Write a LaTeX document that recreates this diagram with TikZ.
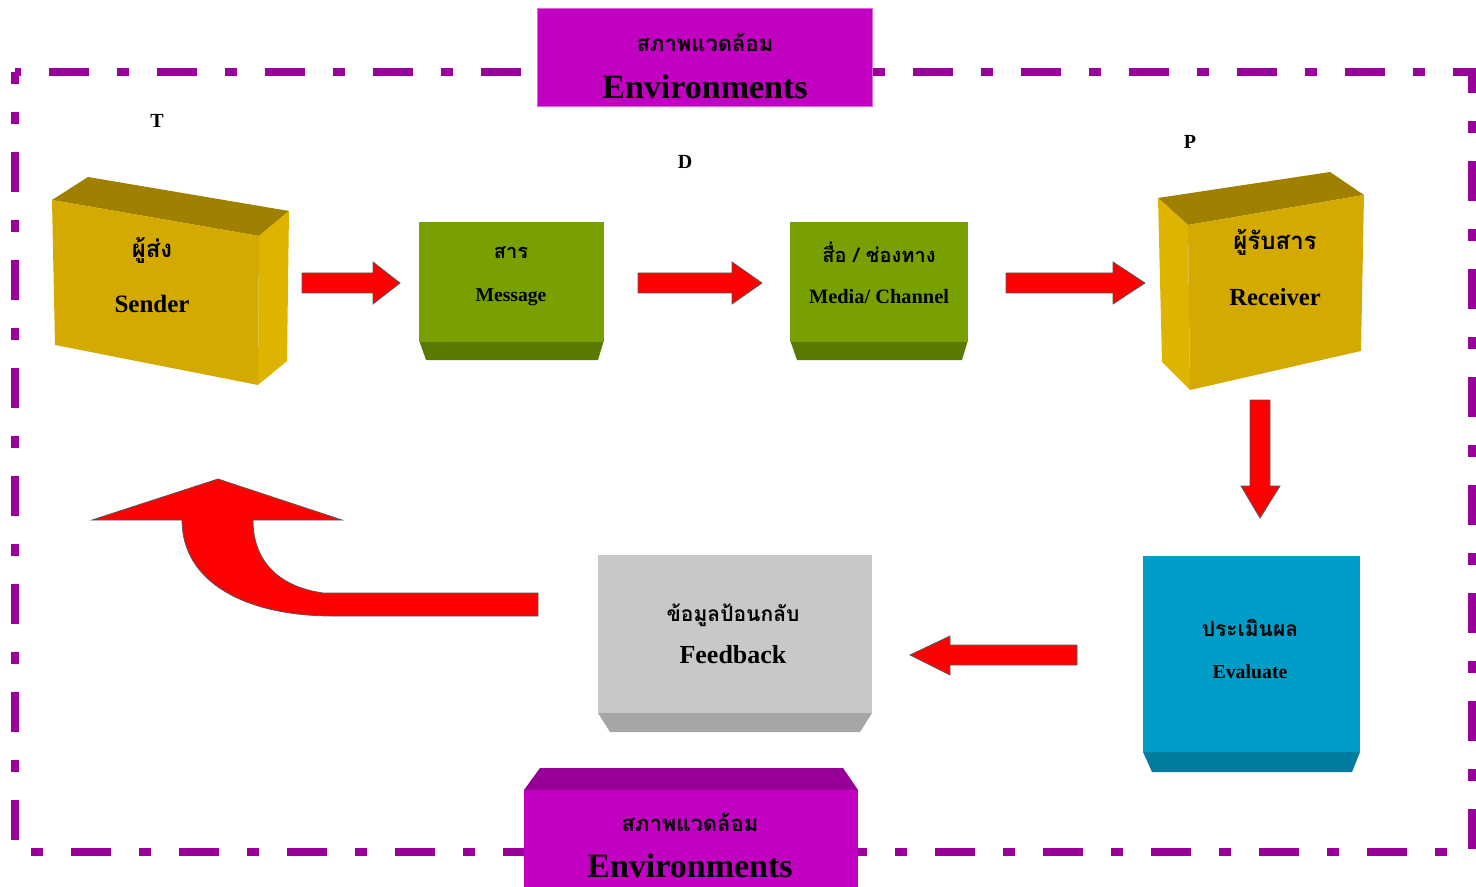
\documentclass[tikz,border=0pt]{standalone}
\usepackage{fontspec}
\setmainfont{Liberation Serif}
\newfontfamily\thai[Script=Thai]{Loma}
\definecolor{border}{RGB}{153,0,153}
\definecolor{envfront}{RGB}{194,0,194}
\definecolor{envtop}{RGB}{150,0,150}
\definecolor{gold}{RGB}{212,170,0}
\definecolor{goldtop}{RGB}{160,128,0}
\definecolor{goldside}{RGB}{222,180,0}
\definecolor{grn}{RGB}{119,160,0}
\definecolor{grndark}{RGB}{88,122,0}
\definecolor{gry}{RGB}{200,200,200}
\definecolor{grydark}{RGB}{166,166,166}
\definecolor{blu}{RGB}{0,157,200}
\definecolor{bludark}{RGB}{0,124,160}
\newcommand\rarrow[6]{\draw[barrow] (#1,#3-#4) -- (#2-#6,#3-#4) -- (#2-#6,#3-#5) -- (#2,#3) -- (#2-#6,#3+#5) -- (#2-#6,#3+#4) -- (#1,#3+#4) -- cycle;}
\begin{document}
\begin{tikzpicture}[x=0.5pt,y=-0.5pt,
  barrow/.style={fill=red, draw=black!65, line width=0.4pt},
  en/.style={font=\bfseries\fontsize{#1}{#1}\selectfont, text=black, inner sep=0pt},
  th/.style={font=\thai\bfseries\fontsize{#1}{#1}\selectfont, text=black, inner sep=0pt},
  letter/.style={font=\bfseries\fontsize{10}{10}\selectfont, inner sep=0pt},
]
\useasboundingbox (0,0) rectangle (1476,887);
% dash-dot environment border
\draw[color=border, line width=4pt, dash pattern=on 20pt off 14pt on 6pt off 14pt, dash phase=14pt]
  (15,72) rectangle (1472,852);

% top environments box
\node[fill=envfront, draw=envfront!60!white, line width=0.4pt, minimum width=167.5pt, minimum height=49pt, inner sep=0pt] (envtop) at (704.5,57) {};
\node[th=11] (envtopth) at (705,42) {สภาพแวดล้อม};
\node[en=17] (envtopen) at (705,87) {Environments};

% bottom environments box
\fill[envtop] (524,790) -- (540,768) -- (843,768) -- (858,790) -- cycle;
\node[fill=envfront, minimum width=167pt, minimum height=48.5pt, inner sep=0pt, anchor=north west] (envbot) at (524,790) {};
\node[th=11] (envbotth) at (690,822) {สภาพแวดล้อม};
\node[en=17] (envboten) at (690,866) {Environments};

% letters
\node[letter] (T) at (157,121) {T};
\node[letter] (D) at (685,162) {D};
\node[letter] (P) at (1190,142) {P};

% sender box
\fill[goldtop] (52,200) -- (88,177) -- (289,211) -- (259,236) -- cycle;
\fill[goldside] (259,236) -- (289,211) -- (287,361) -- (258,385) -- cycle;
\fill[gold] (52,200) -- (259,236) -- (258,385) -- (55,345) -- cycle;
\node[th=12] (senderth) at (152,250) {ผู้ส่ง};
\node[en=12.5] (sender) at (152,304) {Sender};

% message box
\fill[grndark] (419,340) -- (604,340) -- (598,360) -- (426,360) -- cycle;
\node[fill=grn, minimum width=92.5pt, minimum height=60pt, inner sep=0pt, anchor=north west] (msgbox) at (419,222) {};
\node[th=10] (msgth) at (511,253) {สาร};
\node[en=9.8] (msg) at (511,297) {Message};

% media box
\fill[grndark] (790,340) -- (968,340) -- (962,360) -- (797,360) -- cycle;
\node[fill=grn, minimum width=89pt, minimum height=60pt, inner sep=0pt, anchor=north west] (medbox) at (790,222) {};
\node[th=10] (medth) at (879,252) {สื่อ / ช่องทาง};
\node[en=10.2] (med) at (879,297) {Media/ Channel};

% receiver box
\fill[goldtop] (1158,198) -- (1330,172) -- (1364,195) -- (1188,225) -- cycle;
\fill[goldside] (1158,198) -- (1188,225) -- (1190,390) -- (1162,362) -- cycle;
\fill[gold] (1188,225) -- (1364,195) -- (1361,351) -- (1190,390) -- cycle;
\node[th=12] (recth) at (1275,242) {ผู้รับสาร};
\node[en=12.3] (rec) at (1275,297) {Receiver};

% evaluate box
\fill[bludark] (1143,752) -- (1360,752) -- (1352,772) -- (1152,772) -- cycle;
\node[fill=blu, minimum width=108.5pt, minimum height=98pt, inner sep=0pt, anchor=north west] (evalbox) at (1143,556) {};
\node[th=10.5] (evalth) at (1250,628) {ประเมินผล};
\node[en=9.9] (eval) at (1250,672) {Evaluate};

% feedback box
\fill[grydark] (598,713) -- (872,713) -- (860,732) -- (610,732) -- cycle;
\node[fill=gry, minimum width=137pt, minimum height=79pt, inner sep=0pt, anchor=north west] (fbbox) at (598,555) {};
\node[th=10.5] (fbth) at (733,615) {ข้อมูลป้อนกลับ};
\node[en=13] (fb) at (733,655) {Feedback};

% block arrows
\rarrow{302}{400}{283}{10}{21}{27}
\rarrow{638}{762}{283}{10}{21}{30}
\rarrow{1006}{1145}{283}{10}{21}{32}
% down arrow
\draw[barrow] (1250,400) -- (1270,400) -- (1270,486) -- (1280,486) -- (1260,518) -- (1241,486) -- (1250,486) -- cycle;
% left arrow
\draw[barrow] (1077,645) -- (950,645) -- (950,636) -- (910,655) -- (950,675) -- (950,665) -- (1077,665) -- cycle;
% curved return arrow
\draw[barrow] (538,593) -- (323,593) .. controls (275,586) and (253,558) .. (253,520)
  -- (342,520) -- (218,479) -- (92,520) -- (182,520)
  .. controls (182,582) and (245,616) .. (333,616) -- (538,616) -- cycle;
\end{tikzpicture}
\end{document}
